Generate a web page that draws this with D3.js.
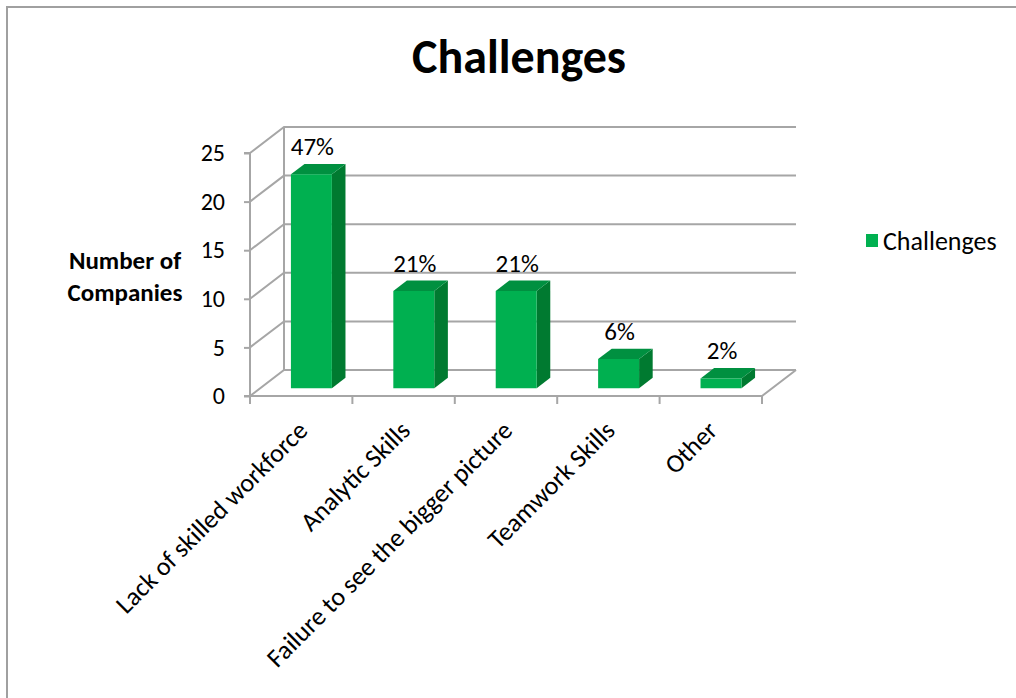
<!DOCTYPE html>
<html>
<head>
<meta charset="utf-8">
<script src="https://cdn.jsdelivr.net/npm/d3@7"></script>
<style>
  body { margin: 0; background: #fff; }
  text { font-family: Carlito, Lato, "Open Sans", sans-serif; fill: #000; }
</style>
</head>
<body>
<script>
var categories = ["Lack of skilled workforce", "Analytic Skills", "Failure to see the bigger picture", "Teamwork Skills", "Other"]
var values = [22, 10, 10, 3, 1]
var pctLabels = ["47%", "21%", "21%", "6%", "2%"]
var yTicks = [0, 5, 10, 15, 20, 25]

main()

function main() {
  var W = 1016, H = 698
  var X0 = 250, X1 = 762
  var Y0 = 396, Y1 = 153
  var DX = 34, DY = 26
  var GRID = "#a6a6a6"
  var FRONT = "#00b050", SIDE = "#007a30", TOP = "#009040"

  var svg = d3.select("body").append("svg").attr("width", W).attr("height", H)

  svg.append("rect")
      .attr("x", 7).attr("y", 7)
      .attr("width", W).attr("height", H)
      .attr("fill", "#fff")
      .attr("stroke", "#a0a0a0")
      .attr("stroke-width", 2)

  var x = d3.scaleBand().domain(categories).range([X0, X1]).paddingInner(0).paddingOuter(0)
  var y = d3.scaleLinear().domain([0, 25]).range([Y0, Y1])

  function pt(px, v, d) {
    return [px + d * DX, y(v) - d * DY]
  }
  function pts(list) {
    return list.map(function(p) { return p.join(",") }).join(" ")
  }

  var g = svg.append("g")

  // side wall + back wall gridlines
  yTicks.forEach(function(t) {
    g.append("polyline")
        .attr("points", pts([pt(X0, t, 0), pt(X0, t, 1), pt(X1, t, 1)]))
        .attr("fill", "none").attr("stroke", GRID).attr("stroke-width", 2)
  })
  // back wall left edge
  g.append("line")
      .attr("x1", X0 + DX).attr("y1", y(0) - DY)
      .attr("x2", X0 + DX).attr("y2", y(25) - DY)
      .attr("stroke", GRID).attr("stroke-width", 2)

  // floor front + right edge
  g.append("polyline")
      .attr("points", pts([pt(X0, 0, 0), pt(X1, 0, 0), pt(X1, 0, 1)]))
      .attr("fill", "none").attr("stroke", GRID).attr("stroke-width", 2)

  // front value axis
  var axis = d3.axisLeft(y).tickValues(yTicks).tickSize(6).tickPadding(19)
  var ax = svg.append("g").attr("transform", "translate(" + X0 + ",0)").call(axis)
  ax.select(".domain").attr("stroke", GRID).attr("stroke-width", 2)
      .attr("d", "M-6," + Y0 + "H0V" + Y1 + "H-6")
  ax.selectAll(".tick line").attr("stroke", GRID).attr("stroke-width", 2)
  ax.selectAll(".tick text")
      .attr("font-size", 24)
      .attr("font-family", "Carlito, Lato, 'Open Sans', sans-serif")
      .attr("fill", "#000")

  // category axis ticks
  var edges = categories.map(function(c) { return x(c) }).concat([X1])
  edges.forEach(function(e) {
    g.append("line")
        .attr("x1", e).attr("y1", Y0).attr("x2", e).attr("y2", Y0 + 8)
        .attr("stroke", GRID).attr("stroke-width", 2)
  })

  // bars
  var BW = x.bandwidth() * 0.4
  var D0 = 0.3, D1 = 0.7
  categories.forEach(function(c, i) {
    var xl = x(c) + (x.bandwidth() - BW) / 2
    var xr = xl + BW
    var v = values[i]
    var bg = svg.append("g")
    function poly(list, fill) {
      bg.append("polygon").attr("points", pts(list)).attr("fill", fill)
    }
    // right side
    poly([pt(xr, 0, D0), pt(xr, 0, D1), pt(xr, v, D1), pt(xr, v, D0)], SIDE)
    // top
    poly([pt(xl, v, D0), pt(xr, v, D0), pt(xr, v, D1), pt(xl, v, D1)], TOP)
    // front
    poly([pt(xl, 0, D0), pt(xr, 0, D0), pt(xr, v, D0), pt(xl, v, D0)], FRONT)

    var lp = pt((xl + xr) / 2, v, D0)
    svg.append("text")
        .attr("x", lp[0] + 1).attr("y", lp[1] - 19)
        .attr("text-anchor", "middle")
        .attr("font-size", 25)
        .text(pctLabels[i])
  })

  // category labels
  categories.forEach(function(c) {
    var cx = x(c) + x.bandwidth() / 2 + 8
    svg.append("text")
        .attr("transform", "translate(" + cx + "," + (Y0 + 36) + ") rotate(-45)")
        .attr("text-anchor", "end")
        .attr("font-size", 26)
        .text(c)
  })

  // title
  svg.append("text")
      .attr("x", 519).attr("y", 73)
      .attr("text-anchor", "middle")
      .attr("font-size", 48)
      .attr("font-weight", "bold")
      .text("Challenges")

  // y axis title
  svg.append("text")
      .attr("x", 125).attr("y", 269)
      .attr("text-anchor", "middle")
      .attr("font-size", 25)
      .attr("font-weight", "bold")
      .text("Number of")
  svg.append("text")
      .attr("x", 125).attr("y", 301)
      .attr("text-anchor", "middle")
      .attr("font-size", 25)
      .attr("font-weight", "bold")
      .text("Companies")

  // legend
  svg.append("rect")
      .attr("x", 866).attr("y", 234)
      .attr("width", 12).attr("height", 13)
      .attr("fill", FRONT)
  svg.append("text")
      .attr("x", 883).attr("y", 250)
      .attr("font-size", 26)
      .text("Challenges")
}
</script>
</body>
</html>
